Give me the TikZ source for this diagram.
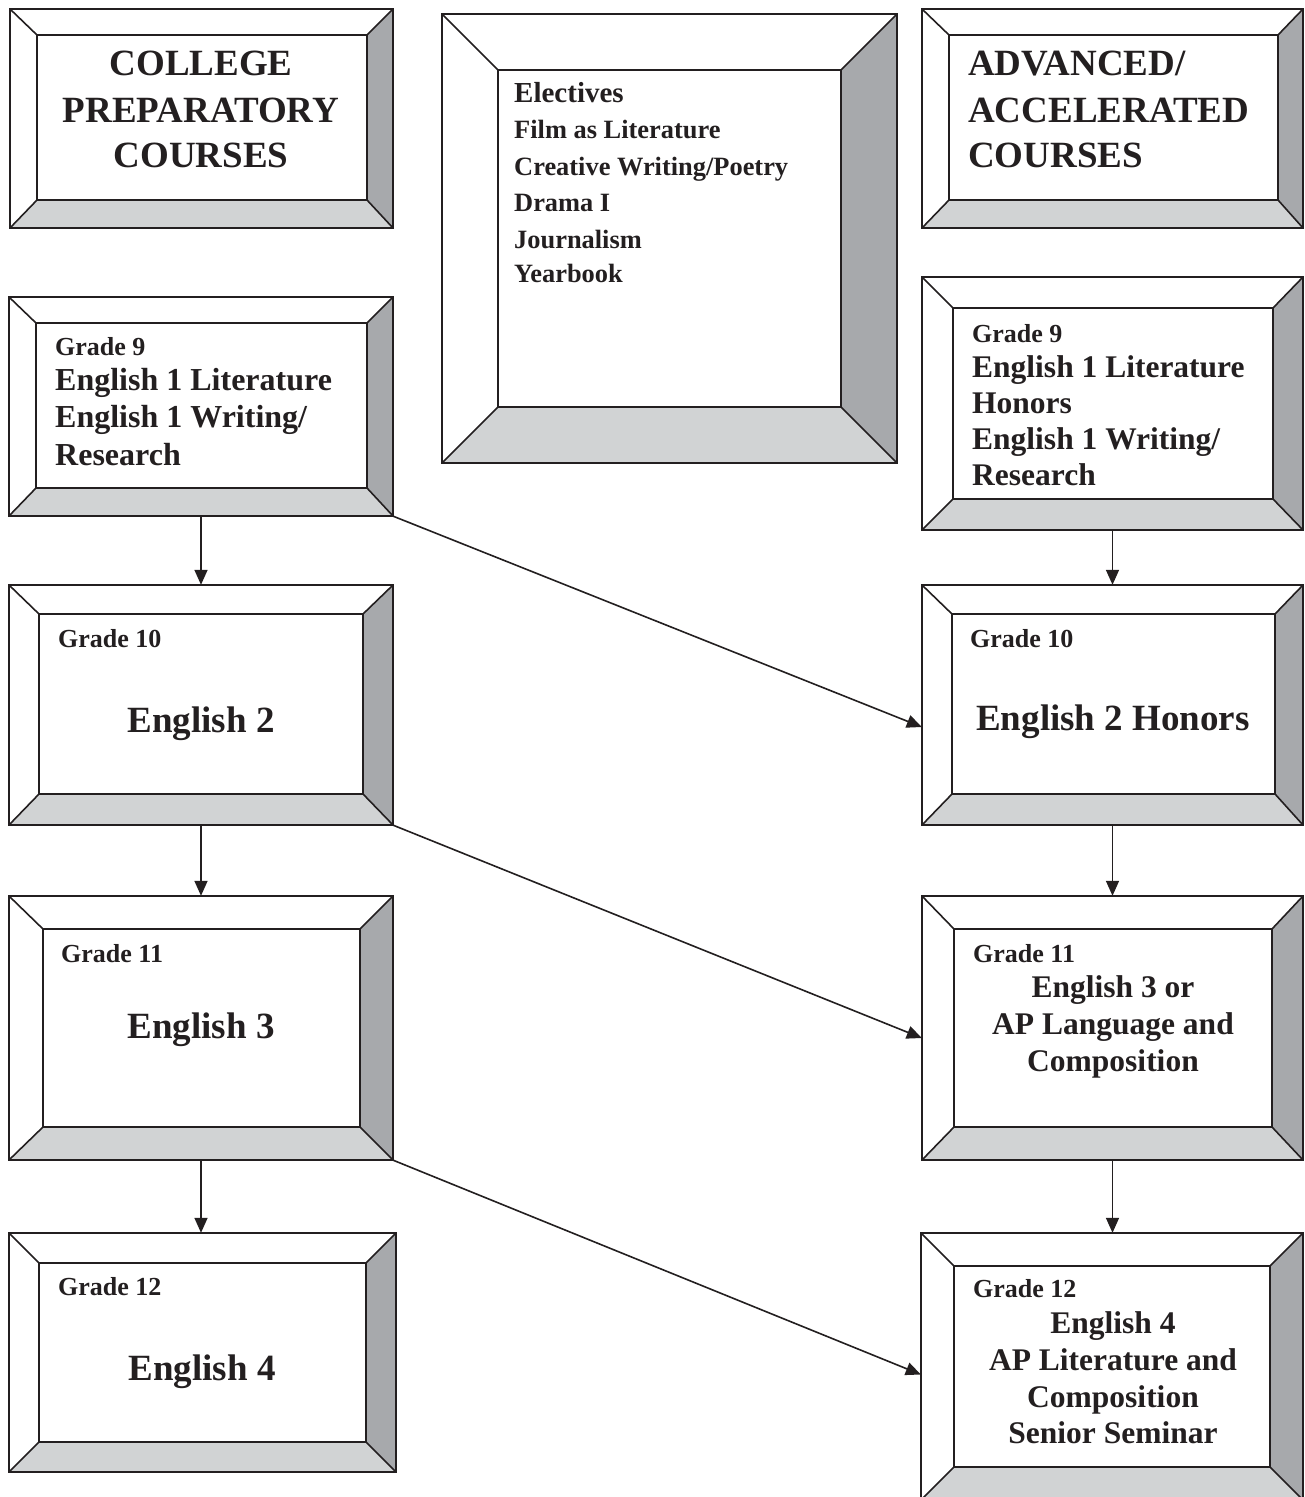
\documentclass[tikz,border=0pt]{standalone}
\usepackage{fontspec}
\setmainfont{Liberation Serif}
\usetikzlibrary{arrows.meta,fit}
\definecolor{bevdark}{HTML}{A7A9AC}
\definecolor{bevlight}{HTML}{D1D3D4}
\definecolor{ink}{HTML}{231F20}
\newcommand{\fhd}{\fontsize{37}{40}\selectfont\bfseries}
\newcommand{\fgr}{\fontsize{26}{28}\selectfont\bfseries}
\newcommand{\fbig}{\fontsize{37}{40}\selectfont\bfseries}
\newcommand{\fmid}{\fontsize{31.5}{34}\selectfont\bfseries}
\newcommand{\fnine}{\fontsize{32}{34}\selectfont\bfseries}
\newcommand{\fel}{\fontsize{26.4}{28}\selectfont\bfseries}
\newcommand{\felh}{\fontsize{29}{31}\selectfont\bfseries}
\newcommand{\bevbox}[9]{%
  \fill[white] (#2,#3) -- (#4,#3) -- (#8,#7) -- (#6,#7) -- cycle;
  \fill[white] (#2,#3) -- (#6,#7) -- (#6,#9) -- (#2,#5) -- cycle;
  \fill[bevdark] (#4,#3) -- (#4,#5) -- (#8,#9) -- (#8,#7) -- cycle;
  \fill[bevlight] (#2,#5) -- (#4,#5) -- (#8,#9) -- (#6,#9) -- cycle;
  \fill[white] (#6,#7) rectangle (#8,#9);
  \draw[frame] (#2,#3) -- (#6,#7) (#4,#3) -- (#8,#7) (#4,#5) -- (#8,#9) (#2,#5) -- (#6,#9);
  \draw[frame] (#6,#7) rectangle (#8,#9);
  \draw[frame] (#2,#3) rectangle (#4,#5);
  \coordinate (#1-nw) at (#2,#3);
  \coordinate (#1-se) at (#4,#5);
  \node[fit=(#1-nw)(#1-se), inner sep=0pt] (#1) {};
}
\newcommand{\lbl}[5]{\node[anchor=#3, inner sep=0pt, font=#4, text=ink] (#1) at (#2) {#5};}
\begin{document}
\begin{tikzpicture}[x=1pt,y=-1pt,
  frame/.style={draw=ink, line width=1.6pt, line join=miter},
  arr/.style={draw=ink, line width=1.6pt, -{Triangle[length=15pt,width=13pt]}}]
\useasboundingbox (0,0) rectangle (1305,1497);
\clip (0,0) rectangle (1305,1497);
\fill[white] (0,0) rectangle (1305,1497);

% header boxes
\bevbox{hdL}{10}{9}{393}{228}{37}{35}{367}{200}
\bevbox{elec}{442}{14}{897}{463}{498}{70}{841}{407}
\bevbox{hdR}{922}{9}{1303}{228}{949}{35}{1278}{200}

% course boxes
\bevbox{g9L}{9}{297}{393}{516}{36}{323}{367}{488}
\bevbox{g9R}{922}{277}{1303}{530}{953}{308}{1273}{499}
\bevbox{g10L}{9}{585}{393}{825}{39}{614}{363}{794}
\bevbox{g10R}{922}{585}{1303}{825}{952}{614}{1275}{794}
\bevbox{g11L}{9}{896}{393}{1160}{43}{929}{360}{1127}
\bevbox{g11R}{922}{896}{1303}{1160}{954}{929}{1272}{1127}
\bevbox{g12L}{9}{1233}{396}{1472}{39}{1263}{366}{1442}
\bevbox{g12R}{921}{1233}{1303}{1500}{954}{1266}{1270}{1467}

% header texts
\lbl{hdLa}{201,75}{base}{\fhd}{COLLEGE}
\lbl{hdLb}{201,122}{base}{\fhd}{PREPARATORY}
\lbl{hdLc}{201,167}{base}{\fhd}{COURSES}
\lbl{hdRa}{968,75}{base west}{\fhd}{ADVANCED/}
\lbl{hdRb}{968,122}{base west}{\fhd}{ACCELERATED}
\lbl{hdRc}{968,167}{base west}{\fhd}{COURSES}

% electives
\lbl{ela}{514,102}{base west}{\felh}{Electives}
\lbl{elb}{514,138}{base west}{\fel}{Film as Literature}
\lbl{elc}{514,175}{base west}{\fel}{Creative Writing/Poetry}
\lbl{eld}{514,211}{base west}{\fel}{Drama I}
\lbl{ele}{514,248}{base west}{\fel}{Journalism}
\lbl{elf}{514,282}{base west}{\fel}{Yearbook}

% grade 9
\lbl{g9La}{55,355}{base west}{\fgr}{Grade 9}
\lbl{g9Lb}{55,390}{base west}{\fnine}{English 1 Literature}
\lbl{g9Lc}{55,427}{base west}{\fnine}{English 1 Writing/}
\lbl{g9Ld}{55,465}{base west}{\fnine}{Research}
\lbl{g9Ra}{972,342}{base west}{\fgr}{Grade 9}
\lbl{g9Rb}{972,377}{base west}{\fmid}{English 1 Literature}
\lbl{g9Rc}{972,413}{base west}{\fmid}{Honors}
\lbl{g9Rd}{972,449}{base west}{\fmid}{English 1 Writing/}
\lbl{g9Re}{972,485}{base west}{\fmid}{Research}

% grade 10
\lbl{g10La}{58,647}{base west}{\fgr}{Grade 10}
\lbl{g10Lb}{201,732}{base}{\fbig}{English 2}
\lbl{g10Ra}{970,647}{base west}{\fgr}{Grade 10}
\lbl{g10Rb}{1113,730}{base}{\fbig}{English 2 Honors}

% grade 11
\lbl{g11La}{61,962}{base west}{\fgr}{Grade 11}
\lbl{g11Lb}{201,1038}{base}{\fbig}{English 3}
\lbl{g11Ra}{973,962}{base west}{\fgr}{Grade 11}
\lbl{g11Rb}{1113,997}{base}{\fmid}{English 3 or}
\lbl{g11Rc}{1113,1034}{base}{\fmid}{AP Language and}
\lbl{g11Rd}{1113,1071}{base}{\fmid}{Composition}

% grade 12
\lbl{g12La}{58,1295}{base west}{\fgr}{Grade 12}
\lbl{g12Lb}{202,1380}{base}{\fbig}{English 4}
\lbl{g12Ra}{973,1297}{base west}{\fgr}{Grade 12}
\lbl{g12Rb}{1113,1333}{base}{\fmid}{English 4}
\lbl{g12Rc}{1113,1370}{base}{\fmid}{AP Literature and}
\lbl{g12Rd}{1113,1407}{base}{\fmid}{Composition}
\lbl{g12Re}{1113,1443}{base}{\fmid}{Senior Seminar}

% vertical arrows
\draw[arr] (g9L.south) -- (g9L.south |- g10L.north);
\draw[arr] (g10L.south) -- (g10L.south |- g11L.north);
\draw[arr] (g11L.south) -- (g11L.south |- g12L.north);
\draw[arr] (g9R.south) -- (g9R.south |- g10R.north);
\draw[arr] (g10R.south) -- (g10R.south |- g11R.north);
\draw[arr] (g11R.south) -- (g11R.south |- g12R.north);

% diagonal arrows
\draw[arr] (g9L.south east) -- ([yshift=-22pt]g10R.west);
\draw[arr] (g10L.south east) -- ([yshift=-10pt]g11R.west);
\draw[arr] (g11L.south east) -- ([yshift=-8pt]g12R.west);
\end{tikzpicture}
\end{document}
